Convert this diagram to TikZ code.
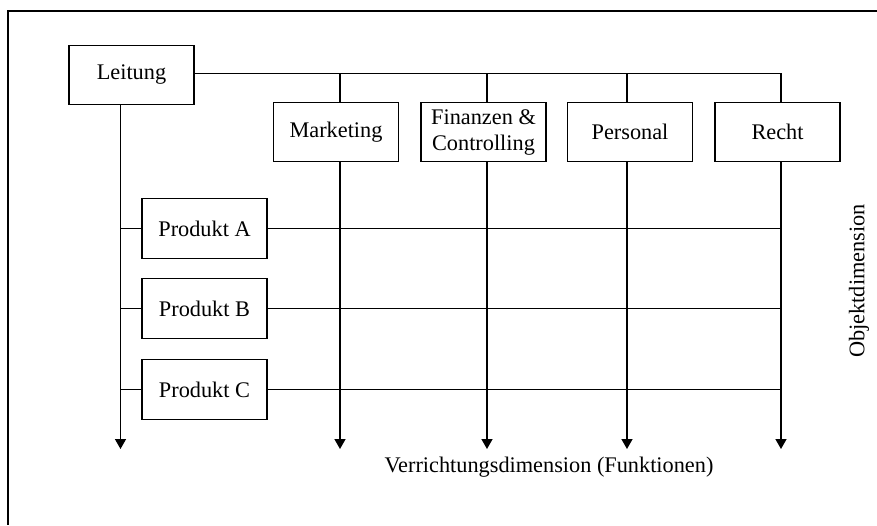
\documentclass[tikz,border=0pt]{standalone}
\usepackage{fontspec}
\setmainfont{Liberation Serif}
\usetikzlibrary{arrows.meta}
\begin{document}
\begin{tikzpicture}[x=1pt,y=-1pt,
  unit/.style={draw,line width=1.4pt,inner sep=0pt,minimum width=125pt,minimum height=59pt,
    font=\fontsize{22.3}{26}\selectfont,align=center},
  link/.style={line width=1.4pt},
  flow/.style={line width=1.4pt,-{Triangle[width=11pt,length=10pt]}},
  lbl/.style={font=\fontsize{22.3}{26}\selectfont,inner sep=0pt}]
\useasboundingbox (0,0) rectangle (877,525);
% frame: top and left edges
\draw[line width=1.5pt] (877,11) -- (8,11) -- (8,525);

% management and functional units
\node[unit] (lei) at (131.5,75) {Leitung};
\node[unit] (mk)  at (336,132) {Marketing};
\node[unit] (fin) at (483.5,132) {Finanzen \&\\Controlling};
\node[unit] (per) at (630,132) {Personal};
\node[unit] (rec) at (777.5,132) {Recht};

% product units
\node[unit,minimum height=60pt] (pa) at (204.5,228.5) {Produkt A};
\node[unit,minimum height=60pt] (pb) at (204.5,308.5) {Produkt B};
\node[unit,minimum height=60pt] (pc) at (204.5,389.5) {Produkt C};

% arrow ends of the vertical lines
\coordinate (a0) at (120.5,449);
\coordinate (a1) at (340,449);
\coordinate (a2) at (487,449);
\coordinate (a3) at (627,449);
\coordinate (a4) at (781,449);
\coordinate (top) at (0,73.5);

% top connector from Leitung to all functions
\draw[link] (lei.east |- top) -- (a4 |- top) -- (rec.north -| a4);
\draw[link] (a1 |- top) -- (mk.north -| a1);
\draw[link] (a2 |- top) -- (fin.north -| a2);
\draw[link] (a3 |- top) -- (per.north -| a3);

% vertical dimension lines
\draw[flow] (lei.south -| a0) -- (a0);
\draw[flow] (mk.south -| a1) -- (a1);
\draw[flow] (fin.south -| a2) -- (a2);
\draw[flow] (per.south -| a3) -- (a3);
\draw[flow] (rec.south -| a4) -- (a4);

% product branches
\foreach \p in {pa,pb,pc}{
  \draw[link] (\p.west -| a0) -- (\p.west);
  \draw[link] (\p.east) -- (\p.east -| a4);
}

% axis labels
\node[lbl] (verr) at (549,467) {Verrichtungsdimension (Funktionen)};
\node[lbl,rotate=90] (obj) at (859,281) {Objektdimension};
\end{tikzpicture}
\end{document}
